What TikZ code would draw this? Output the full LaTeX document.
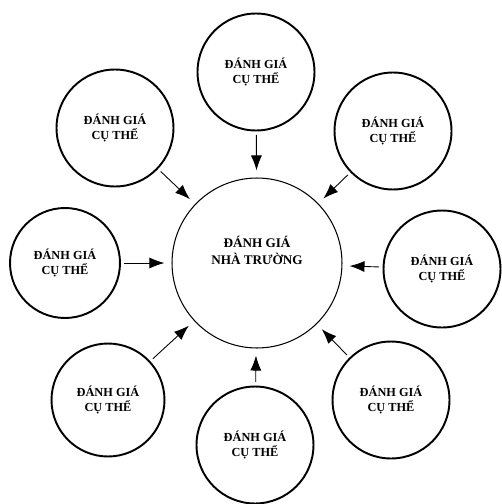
\documentclass[tikz,border=0pt]{standalone}
\usepackage{fontspec}
\setmainfont{Liberation Serif}
\usetikzlibrary{arrows.meta}

\tikzset{
  part/.style={circle, draw, line width=1.1pt, minimum size=2.34cm,
    inner sep=0pt, align=center, font=\bfseries\fontsize{7}{8.5}\selectfont},
  whole/.style={circle, draw, line width=0.6pt, minimum size=3.4cm, inner sep=0pt},
  wholetext/.style={align=center, font=\bfseries\fontsize{7.5}{9.5}\selectfont},
  link/.style={-{Latex[length=3mm, width=2.2mm]}, line width=0.5pt,
    shorten <=2pt, shorten >=4pt}
}

\begin{document}
\begin{tikzpicture}[x=0.02cm, y=-0.02cm]
      \useasboundingbox (0,0) rectangle (501,504);

      % Draw the big circle in the middle
      \node[whole] (school) at (257,263) {};
      \node[wholetext] (schooltext) at ([yshift=7pt]school.center)
      {ĐÁNH GIÁ\\NHÀ TRƯỜNG};

      % Draw the small circles around it
      \node[part] (top) at (256,72) {ĐÁNH GIÁ\\CỤ THỂ};
      \node[part] (topleft) at (115,128) {ĐÁNH GIÁ\\CỤ THỂ};
      \node[part] (topright) at (393,131) {ĐÁNH GIÁ\\CỤ THỂ};
      \node[part, minimum size=2.2cm] (left) at (65,263) {ĐÁNH GIÁ\\CỤ THỂ};
      \node[part] (right) at (442,269) {ĐÁNH GIÁ\\CỤ THỂ};
      \node[part, minimum size=2.26cm] (botleft) at (108,400) {ĐÁNH GIÁ\\CỤ THỂ};
      \node[part] (botright) at (391,400) {ĐÁNH GIÁ\\CỤ THỂ};
      \node[part] (bottom) at (255,445) {ĐÁNH GIÁ\\CỤ THỂ};

      % Add arrows from each small circle to the big one
      \foreach \n in {top, topleft, topright, left, right, botleft, botright, bottom}
        \draw[link] (\n) -- (school);
    \end{tikzpicture}
\end{document}
